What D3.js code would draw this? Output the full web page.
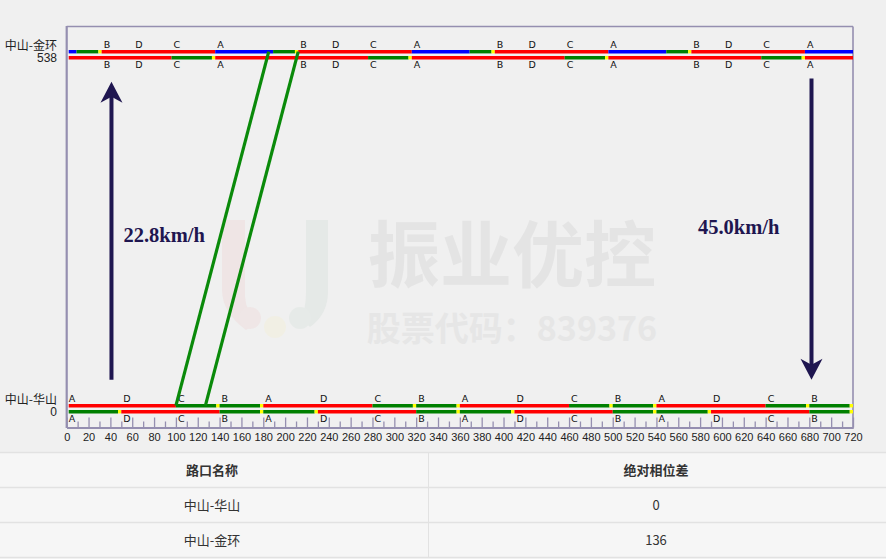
<!DOCTYPE html>
<html>
<head>
<meta charset="utf-8">
<script src="https://cdn.jsdelivr.net/npm/d3@7/dist/d3.min.js"></script>
<style>
  html, body { margin: 0; padding: 0; background: #f0f0f0; }
  svg { display: block; }
</style>
</head>
<body>
<svg id="chart" width="886" height="559"></svg>
<script>
// ---------------- data ----------------
const timeDomain = [0, 720];
const timeTickLabels = [0,20,40,60,80,100,120,140,160,180,200,220,240,260,280,300,320,340,360,380,400,420,440,460,480,500,520,540,560,580,600,620,640,660,680,700,720];
const timeMinorTicks = [10,30,50,70,90,110,130,150,170,190,210,230,250,270,290,310,330,350,370,390,410,430,450,470,490,510,530,550,570,590,610,630,650,670,690,710];
const cycleLength = 180;
const intersectionNames = ["中山-华山", "中山-金环"];
const intersectionDistances = [0, 538];
const phaseOffsets = [0, 136];
const phaseNames = [["A", "D", "C", "B"], ["A", "B", "D", "C"]];
const phaseStarts = [[0, 50, 100, 140], [0, 76, 105, 140]];
// signal states per cycle (relative to the offset): [from, to, state]
const upSignal = [
  [[0, 100, "R"], [100, 137, "G"], [137, 140, "Y"], [140, 177, "G"], [177, 180, "Y"]],
  [[0, 53, "B"], [53, 73, "G"], [73, 76, "Y"], [76, 180, "R"]]
];
const downSignal = [
  [[0, 47, "G"], [47, 50, "Y"], [50, 140, "R"], [140, 177, "G"], [177, 180, "Y"]],
  [[0, 140, "R"], [140, 177, "G"], [177, 180, "Y"]]
];
const bandStartTimes = [100, 127];
const bandEndTimes = [185, 212];
const speedLabels = ["22.8km/h", "45.0km/h"];
const arrowTimes = [41, 682];
const arrowFrom = [44, 502];
const arrowTo = [497, 44];
const speedLabelTimes = [52, 578];
const speedLabelDists = [253, 265];
const tableHeaders = ["路口名称", "绝对相位差"];
const tableNames = ["中山-华山", "中山-金环"];
const tableOffsets = ["0", "136"];

// ---------------- drawing ----------------
const svg = d3.select("#chart");
const frameColor = "#958fb0";
const navy = "#1f1650";
const stateColor = { R: "#ff0000", G: "#008000", Y: "#ffff00", B: "#0000ff" };

const x = d3.scaleLinear().domain(timeDomain).range([66.7, 853]);
const y = d3.scaleLinear().domain([0, 538]).range([408.7, 54.7]);

svg.append("rect").attr("width", 886).attr("height", 559).attr("fill", "#f0f0f0");

// watermark
const wm = svg.append("g");
wm.append("path")
  .attr("d", "M222,220 L245,220 L245,296 Q246,312 256,322 L246,330 Q222,312 222,290 Z")
  .attr("fill", "#efe5e5");
wm.append("path")
  .attr("d", "M306,220 L328,220 L328,292 Q328,314 310,327 L301,318 Q306,308 306,292 Z")
  .attr("fill", "#e5e9e7");
wm.append("circle").attr("cx", 250).attr("cy", 318).attr("r", 11).attr("fill", "#efe6e6");
wm.append("circle").attr("cx", 275).attr("cy", 327).attr("r", 11).attr("fill", "#f1efe4");
wm.append("circle").attr("cx", 300).attr("cy", 318).attr("r", 11).attr("fill", "#e6eae8");
wm.append("text").attr("x", 512).attr("y", 281).attr("text-anchor", "middle")
  .attr("font-family", "'Noto Sans CJK SC'").attr("font-weight", 700).attr("font-size", 72)
  .attr("fill", "#e4e4e4").text("振业优控");
wm.append("text").attr("x", 512).attr("y", 341).attr("text-anchor", "middle")
  .attr("font-family", "'Noto Sans CJK SC'").attr("font-weight", 700).attr("font-size", 34)
  .attr("fill", "#e6e6e6").text("股票代码：839376");

// frame
svg.append("line").attr("x1", x(0)).attr("x2", x(720)).attr("y1", 26.5).attr("y2", 26.5)
  .attr("stroke", frameColor).attr("stroke-width", 1.6);
svg.append("line").attr("x1", x(720)).attr("x2", x(720)).attr("y1", 26.5).attr("y2", 427.5)
  .attr("stroke", frameColor).attr("stroke-width", 1.6);
svg.append("line").attr("x1", x(0)).attr("x2", x(0)).attr("y1", 26).attr("y2", 428)
  .attr("stroke", frameColor).attr("stroke-width", 2.2);

// x axis
const axisG = svg.append("g").attr("transform", "translate(0,427.5)");
axisG.call(d3.axisBottom(x).tickValues(timeTickLabels).tickSizeInner(-10).tickSizeOuter(0).tickPadding(6));
const minorG = svg.append("g").attr("transform", "translate(0,427.5)");
minorG.call(d3.axisBottom(x).tickValues(timeMinorTicks).tickSizeInner(-6).tickSizeOuter(0).tickFormat(""));
[axisG, minorG].forEach(g => {
  g.select(".domain").attr("stroke", frameColor).attr("stroke-width", 2);
  g.selectAll(".tick line").attr("stroke", frameColor).attr("stroke-width", 1.3);
});
axisG.selectAll(".tick text").attr("font-family", "'Liberation Sans', Arial, sans-serif")
  .attr("font-size", 11).attr("fill", "#222");

// y labels
intersectionNames.forEach((name, i) => {
  const yy = y(intersectionDistances[i]);
  svg.append("text").attr("x", 57).attr("y", yy - 5).attr("text-anchor", "end")
    .attr("font-family", "'Noto Sans CJK SC'").attr("font-size", 12).attr("fill", "#222").text(name);
  svg.append("text").attr("x", 57).attr("y", yy + 7.5).attr("text-anchor", "end")
    .attr("font-family", "'Liberation Sans', Arial, sans-serif").attr("font-size", 12).attr("fill", "#222")
    .text(intersectionDistances[i]);
});

// signal bars
const sigG = svg.append("g");
function drawSignal(segs, i, dy) {
  const yy = y(intersectionDistances[i]) + dy;
  for (let k = -1; k <= 4; k++) {
    const base = phaseOffsets[i] + k * cycleLength;
    segs.forEach(s => {
      const a = Math.max(timeDomain[0], base + s[0]);
      const b = Math.min(timeDomain[1], base + s[1]);
      if (b > a) {
        sigG.append("line").attr("x1", x(a) + (a === timeDomain[0] ? 2 : 0)).attr("x2", x(b))
          .attr("y1", yy).attr("y2", yy)
          .attr("stroke", stateColor[s[2]]).attr("stroke-width", 3.4);
      }
    });
  }
}
intersectionNames.forEach((n, i) => {
  drawSignal(upSignal[i], i, -3);
  drawSignal(downSignal[i], i, 3);
});

// phase labels
intersectionNames.forEach((n, i) => {
  const yy = y(intersectionDistances[i]);
  for (let k = -1; k <= 4; k++) {
    phaseStarts[i].forEach((p, j) => {
      const t = phaseOffsets[i] + k * cycleLength + p;
      if (t >= timeDomain[0] && t < timeDomain[1]) {
        [yy - 7, yy + 13].forEach(ty => {
          svg.append("text").attr("x", x(t) + 2).attr("y", ty)
            .attr("font-family", "'DejaVu Sans', Verdana, sans-serif").attr("font-size", 9.5)
            .attr("fill", "#111").text(phaseNames[i][j]);
        });
      }
    });
  }
});

// green band
bandStartTimes.forEach((t0, i) => {
  svg.append("line")
    .attr("x1", x(t0)).attr("y1", y(intersectionDistances[0]) - 3)
    .attr("x2", x(bandEndTimes[i])).attr("y2", y(intersectionDistances[1]) - 3)
    .attr("stroke", "#0a8a0a").attr("stroke-width", 3.2);
});

// speed arrows
arrowTimes.forEach((t, i) => {
  const ax = x(t), y0 = y(arrowFrom[i]), y1 = y(arrowTo[i]);
  const dir = y1 < y0 ? -1 : 1;
  svg.append("line").attr("x1", ax).attr("x2", ax).attr("y1", y0).attr("y2", y1 - dir * 12)
    .attr("stroke", navy).attr("stroke-width", 4);
  const p = d3.path();
  p.moveTo(ax, y1);
  p.lineTo(ax + 11, y1 - dir * 21);
  p.lineTo(ax, y1 - dir * 15);
  p.lineTo(ax - 11, y1 - dir * 21);
  p.closePath();
  svg.append("path").attr("d", p.toString()).attr("fill", navy);
  svg.append("text").attr("x", x(speedLabelTimes[i])).attr("y", y(speedLabelDists[i]))
    .attr("font-family", "'Liberation Serif', 'Times New Roman', serif").attr("font-weight", 700)
    .attr("font-size", 20.5).attr("fill", navy).text(speedLabels[i]);
});

// table
const tableTop = 452, rowH = 35, colSplit = 428;
const tbl = svg.append("g");
tbl.append("rect").attr("x", 0).attr("y", tableTop).attr("width", 886).attr("height", rowH * 3 + 2)
  .attr("fill", "#f6f6f6");
[0, 1, 2, 3].forEach(r => {
  tbl.append("line").attr("x1", 0).attr("x2", 886)
    .attr("y1", tableTop + r * rowH + 0.5).attr("y2", tableTop + r * rowH + 0.5)
    .attr("stroke", "#e2e2e2").attr("stroke-width", 1.5);
});
tbl.append("line").attr("x1", colSplit + 0.5).attr("x2", colSplit + 0.5)
  .attr("y1", tableTop).attr("y2", tableTop + rowH * 3).attr("stroke", "#e2e2e2").attr("stroke-width", 1);
const colCenters = [212, 656];
const rows = [tableHeaders].concat(tableNames.map((n, i) => [n, tableOffsets[i]]));
rows.forEach((row, r) => {
  row.forEach((txt, c) => {
    tbl.append("text").attr("x", colCenters[c]).attr("y", tableTop + r * rowH + rowH / 2 + 5)
      .attr("text-anchor", "middle")
      .attr("font-family", "'Noto Sans CJK SC', 'Liberation Sans', sans-serif")
      .attr("font-size", 13).attr("font-weight", r === 0 ? 700 : 400)
      .attr("fill", "#333").text(txt);
  });
});
</script>
</body>
</html>
